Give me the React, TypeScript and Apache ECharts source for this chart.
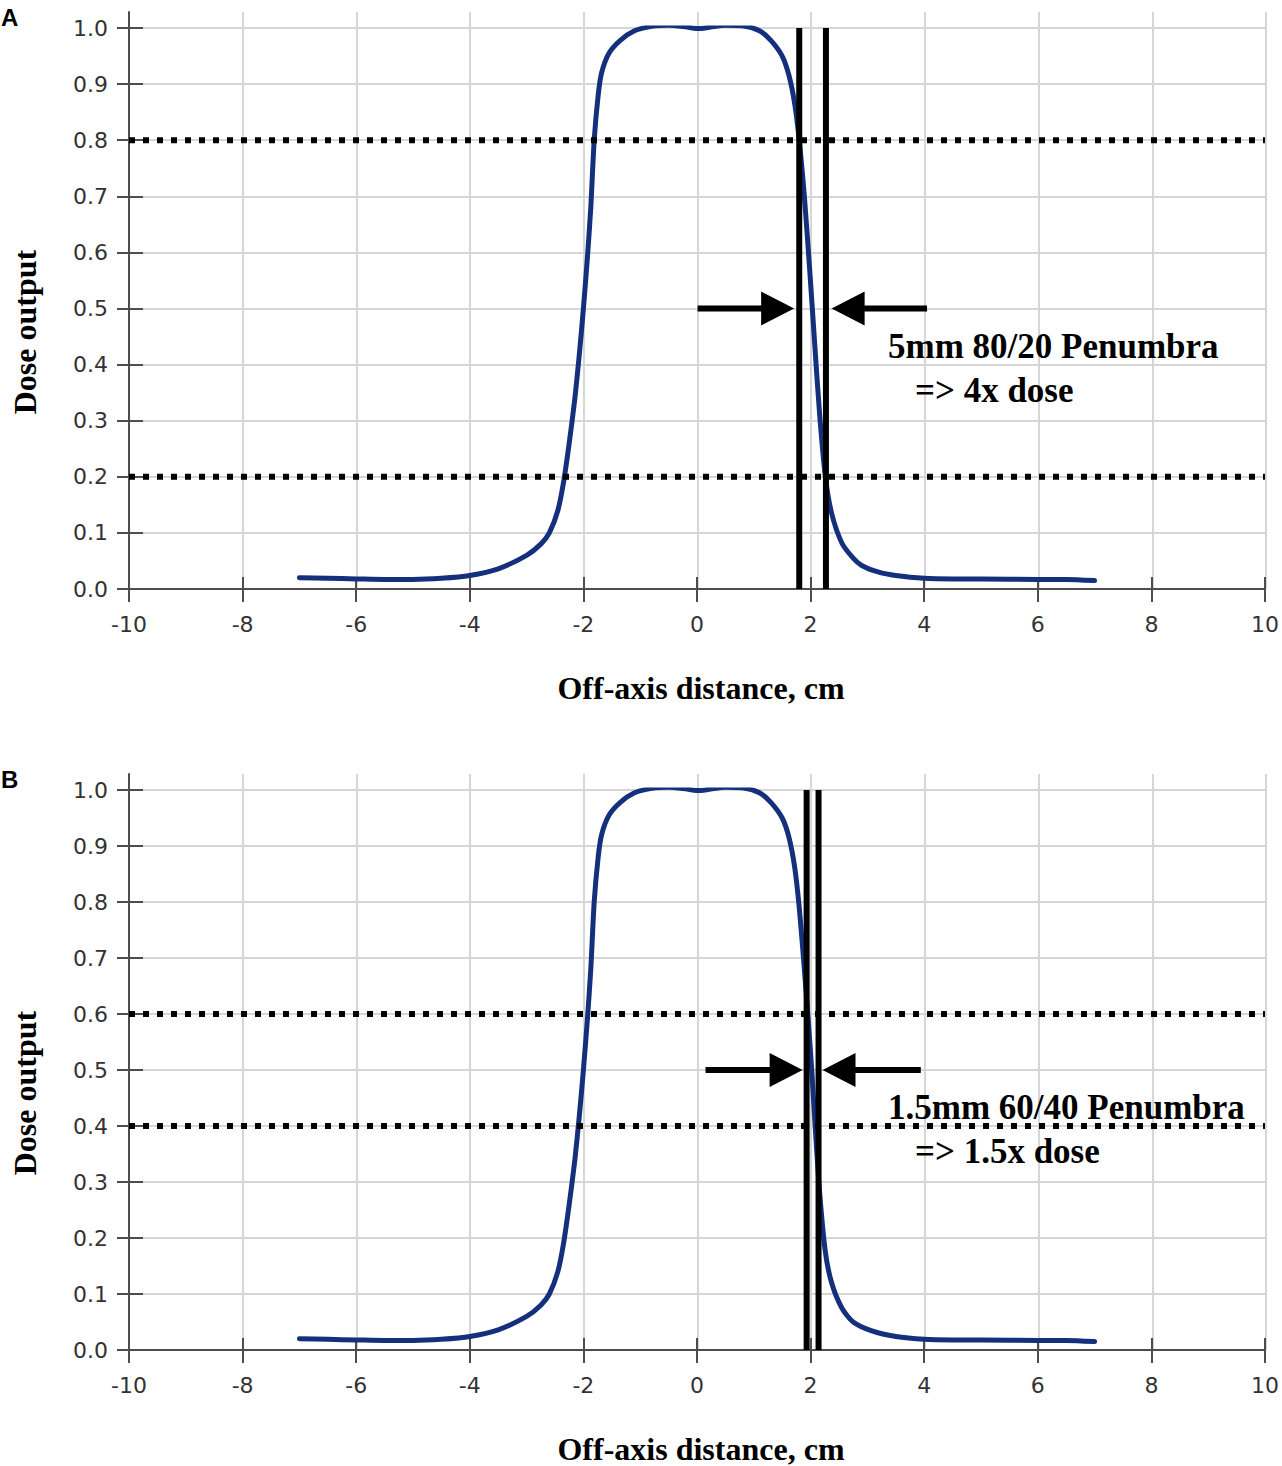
import React, { useEffect, useRef } from "react";
import * as echarts from "echarts";

// ---------- data ----------
const xTicks = [-10, -8, -6, -4, -2, 0, 2, 4, 6, 8, 10];
const yTicks = [0, 0.1, 0.2, 0.3, 0.4, 0.5, 0.6, 0.7, 0.8, 0.9, 1.0];

const offAxisA = [
  -7.0, -6.5, -6.0, -5.5, -5.0, -4.5, -4.0, -3.5, -3.0, -2.75, -2.6, -2.45, -2.35, -2.25, -2.15,
  -2.07, -2.0, -1.93, -1.87, -1.81, -1.74, -1.68, -1.55, -1.35, -1.1, -0.8, -0.5, -0.2, 0.0, 0.2,
  0.5, 0.8, 1.1, 1.3, 1.5, 1.62, 1.72, 1.8, 1.89, 1.98, 2.07, 2.16, 2.26, 2.37, 2.55, 2.75, 2.9,
  3.2, 3.5, 4.0, 4.5, 5.0, 6.0, 6.5, 7.0,
];
const doseA = [
  0.02, 0.019, 0.018, 0.017, 0.017, 0.019, 0.024, 0.036, 0.06, 0.08, 0.1, 0.14, 0.19, 0.26, 0.34,
  0.42, 0.5, 0.59, 0.68, 0.8, 0.88, 0.92, 0.955, 0.978, 0.995, 1.003, 1.005, 1.002, 0.999, 1.001,
  1.005, 1.004, 0.995, 0.978, 0.95, 0.915, 0.865, 0.8, 0.7, 0.575, 0.44, 0.31, 0.2, 0.135, 0.082,
  0.055, 0.042, 0.03, 0.024, 0.019, 0.018, 0.018, 0.017, 0.017, 0.015,
];

const offAxisB = [
  -7.0, -6.5, -6.0, -5.5, -5.0, -4.5, -4.0, -3.5, -3.0, -2.75, -2.6, -2.45, -2.35, -2.25, -2.15,
  -2.07, -2.0, -1.93, -1.87, -1.81, -1.74, -1.68, -1.55, -1.35, -1.1, -0.8, -0.5, -0.2, 0.0, 0.2,
  0.5, 0.8, 1.1, 1.3, 1.5, 1.62, 1.72, 1.8, 1.89, 1.95, 2.02, 2.08, 2.16, 2.26, 2.37, 2.55, 2.75,
  3.08, 3.5, 4.0, 4.5, 5.0, 6.0, 6.5, 7.0,
];
const doseB = [
  0.02, 0.019, 0.018, 0.017, 0.017, 0.019, 0.024, 0.036, 0.06, 0.08, 0.1, 0.14, 0.19, 0.26, 0.34,
  0.42, 0.5, 0.59, 0.68, 0.8, 0.88, 0.92, 0.955, 0.978, 0.995, 1.003, 1.005, 1.002, 0.999, 1.001,
  1.005, 1.004, 0.995, 0.978, 0.95, 0.915, 0.862, 0.79, 0.68, 0.6, 0.5, 0.4, 0.28, 0.175, 0.12,
  0.075, 0.05, 0.034, 0.024, 0.019, 0.018, 0.018, 0.017, 0.017, 0.015,
];

const levelsA = [0.8, 0.2];
const levelsB = [0.6, 0.4];
const edgesA = [1.8, 2.27];
const edgesB = [1.93, 2.14];
// arrows: [tail x, tip x, y]
const arrowsA = [
  [0.01, 1.71, 0.5],
  [4.05, 2.37, 0.5],
];
const arrowsB = [
  [0.15, 1.86, 0.5],
  [3.94, 2.21, 0.5],
];
const noteA = ["5mm 80/20 Penumbra", "=> 4x dose"];
const noteB = ["1.5mm 60/40 Penumbra", "=> 1.5x dose"];
const xName = "Off-axis distance, cm";
const yName = "Dose output";
const panelLetters = ["A", "B"];

// ---------- layout ----------
const W = 1282;
const H = 1466;
const PLOT_LEFT = 129;
const PLOT_W = 1137;
const PANELS = [
  { top: 28, h: 561, ext: 16 },
  { top: 790, h: 560, ext: 16 },
];

const AXIS_COLOR = "#4d4d4d";
const GRID_COLOR = "#d6d6d6";
const CURVE_COLOR = "#14307d";
const TICK_FONT = "DejaVu Sans";
const SERIF = "Liberation Serif";

function buildOption() {
  const grid: any[] = [];
  const xAxis: any[] = [];
  const yAxis: any[] = [];
  const series: any[] = [];
  const graphic: any[] = [];

  const X_MIN = xTicks[0];
  const X_MAX = xTicks[xTicks.length - 1];
  const X_INT = xTicks[1] - xTicks[0];
  const Y_MIN = yTicks[0];
  const Y_MAX = yTicks[yTicks.length - 1];
  const Y_INT = 0.1;

  const panelData = [
    { x: offAxisA, y: doseA, levels: levelsA, edges: edgesA, arrows: arrowsA, note: noteA },
    { x: offAxisB, y: doseB, levels: levelsB, edges: edgesB, arrows: arrowsB, note: noteB },
  ];

  PANELS.forEach((p, i) => {
    const gMain = grid.length;
    grid.push({ left: PLOT_LEFT, top: p.top, width: PLOT_W, height: p.h, containLabel: false });
    const gExt = grid.length;
    grid.push({ left: PLOT_LEFT, top: p.top - p.ext, width: PLOT_W, height: p.h + p.ext, containLabel: false });

    const xMain = xAxis.length;
    xAxis.push({
      type: "value",
      gridIndex: gMain,
      position: "bottom",
      min: X_MIN,
      max: X_MAX,
      interval: X_INT,
      axisLine: { show: true, onZero: false, lineStyle: { color: AXIS_COLOR, width: 2 } },
      axisTick: { show: true, inside: false, length: 13, lineStyle: { color: AXIS_COLOR, width: 2 } },
      axisLabel: {
        show: true,
        margin: 24,
        color: "#333",
        fontFamily: TICK_FONT,
        fontSize: 22,
      },
      splitLine: { show: false },
    });
    xAxis.push({
      type: "value",
      gridIndex: gMain,
      position: "bottom",
      min: X_MIN,
      max: X_MAX,
      interval: X_INT,
      axisLine: { show: false, onZero: false },
      axisTick: { show: true, inside: true, length: 12, lineStyle: { color: AXIS_COLOR, width: 2 } },
      axisLabel: { show: false },
      splitLine: { show: false },
    });
    xAxis.push({
      type: "value",
      gridIndex: gExt,
      position: "bottom",
      min: X_MIN,
      max: X_MAX,
      interval: X_INT,
      axisLine: { show: false, onZero: false },
      axisTick: { show: false },
      axisLabel: { show: false },
      splitLine: { show: true, lineStyle: { color: GRID_COLOR, width: 2 } },
      z: -1,
    });

    const yMain = yAxis.length;
    yAxis.push({
      type: "value",
      gridIndex: gMain,
      position: "left",
      min: Y_MIN,
      max: Y_MAX,
      interval: Y_INT,
      axisLine: { show: false, onZero: false },
      axisTick: { show: true, inside: false, length: 12, lineStyle: { color: AXIS_COLOR, width: 2 } },
      axisLabel: {
        show: true,
        margin: 21,
        color: "#333",
        fontFamily: TICK_FONT,
        fontSize: 22,
        formatter: (v: number) => v.toFixed(1),
      },
      splitLine: { show: true, lineStyle: { color: GRID_COLOR, width: 2 } },
    });
    yAxis.push({
      type: "value",
      gridIndex: gMain,
      position: "left",
      min: Y_MIN,
      max: Y_MAX,
      interval: Y_INT,
      axisLine: { show: false, onZero: false },
      axisTick: { show: true, inside: true, length: 14, lineStyle: { color: AXIS_COLOR, width: 2 } },
      axisLabel: { show: false },
      splitLine: { show: false },
    });
    yAxis.push({
      type: "value",
      gridIndex: gExt,
      position: "left",
      min: 0,
      max: 1,
      axisLine: { show: true, onZero: false, lineStyle: { color: AXIS_COLOR, width: 2 } },
      axisTick: { show: false },
      axisLabel: { show: false },
      splitLine: { show: false },
    });

    const d = panelData[i];
    series.push({
      type: "line",
      xAxisIndex: xMain,
      yAxisIndex: yMain,
      data: d.x.map((xv, k) => [xv, d.y[k]]),
      showSymbol: false,
      symbol: "none",
      smooth: 0.25,
      lineStyle: { color: CURVE_COLOR, width: 5, join: "round", cap: "round" },
      z: 3,
    });
    d.levels.forEach((lv) => {
      series.push({
        type: "line",
        xAxisIndex: xMain,
        yAxisIndex: yMain,
        data: [
          [X_MIN, lv],
          [X_MAX, lv],
        ],
        symbol: "none",
        lineStyle: { color: "#000", width: 6, type: [6, 8], cap: "butt" },
        z: 4,
      });
    });
    d.edges.forEach((ex) => {
      series.push({
        type: "line",
        xAxisIndex: xMain,
        yAxisIndex: yMain,
        data: [
          [ex, Y_MIN],
          [ex, Y_MAX],
        ],
        symbol: "none",
        lineStyle: { color: "#000", width: 6 },
        z: 5,
      });
    });
    series.push({
      type: "custom",
      xAxisIndex: xMain,
      yAxisIndex: yMain,
      data: d.arrows,
      encode: { x: [0, 1], y: 2 },
      z: 6,
      renderItem: (params: any, api: any) => {
        const p0 = api.coord([api.value(0), api.value(2)]);
        const p1 = api.coord([api.value(1), api.value(2)]);
        const dir = p1[0] > p0[0] ? 1 : -1;
        const headLen = 33;
        const half = 17;
        const base = p1[0] - dir * headLen;
        return {
          type: "group",
          children: [
            {
              type: "line",
              shape: { x1: p0[0], y1: p0[1], x2: base + dir * 2, y2: p1[1] },
              style: { stroke: "#000", lineWidth: 6 },
            },
            {
              type: "polygon",
              shape: {
                points: [
                  [p1[0], p1[1]],
                  [base, p1[1] - half],
                  [base, p1[1] + half],
                ],
              },
              style: { fill: "#000" },
            },
          ],
        };
      },
    });

    // annotation text
    const noteTop = i === 0 ? 346 : 1107;
    graphic.push({
      type: "text",
      x: 888,
      y: noteTop,
      z: 10,
      style: {
        text: d.note[0],
        font: `bold 35px "${SERIF}"`,
        fill: "#000",
        align: "left",
        verticalAlign: "middle",
      },
    });
    graphic.push({
      type: "text",
      x: 915,
      y: noteTop + 44,
      z: 10,
      style: {
        text: d.note[1],
        font: `bold 35px "${SERIF}"`,
        fill: "#000",
        align: "left",
        verticalAlign: "middle",
      },
    });
    // axis names
    graphic.push({
      type: "text",
      x: 701,
      y: i === 0 ? 688 : 1449,
      style: {
        text: xName,
        font: `bold 32px "${SERIF}"`,
        fill: "#000",
        align: "center",
        verticalAlign: "middle",
      },
    });
    graphic.push({
      type: "text",
      x: 25,
      y: i === 0 ? 332 : 1093,
      rotation: Math.PI / 2,
      style: {
        text: yName,
        font: `bold 32px "${SERIF}"`,
        fill: "#000",
        align: "center",
        verticalAlign: "middle",
      },
    });
    graphic.push({
      type: "text",
      x: 1,
      y: i === 0 ? 17 : 779,
      style: {
        text: panelLetters[i],
        font: `bold 24px "Liberation Sans"`,
        fill: "#000",
        align: "left",
        verticalAlign: "middle",
      },
    });
  });

  return {
    animation: false,
    backgroundColor: "#ffffff",
    grid,
    xAxis,
    yAxis,
    series,
    graphic,
  };
}

export default function App() {
  const ref = useRef<HTMLDivElement>(null);
  useEffect(() => {
    if (!ref.current) return;
    const chart = echarts.init(ref.current, undefined, { renderer: "svg", width: W, height: H });
    chart.setOption(buildOption() as any);
    return () => chart.dispose();
  }, []);
  return (
    <div
      ref={ref}
      style={{ position: "absolute", left: 0, top: 0, width: W, height: H, background: "#fff" }}
    />
  );
}
